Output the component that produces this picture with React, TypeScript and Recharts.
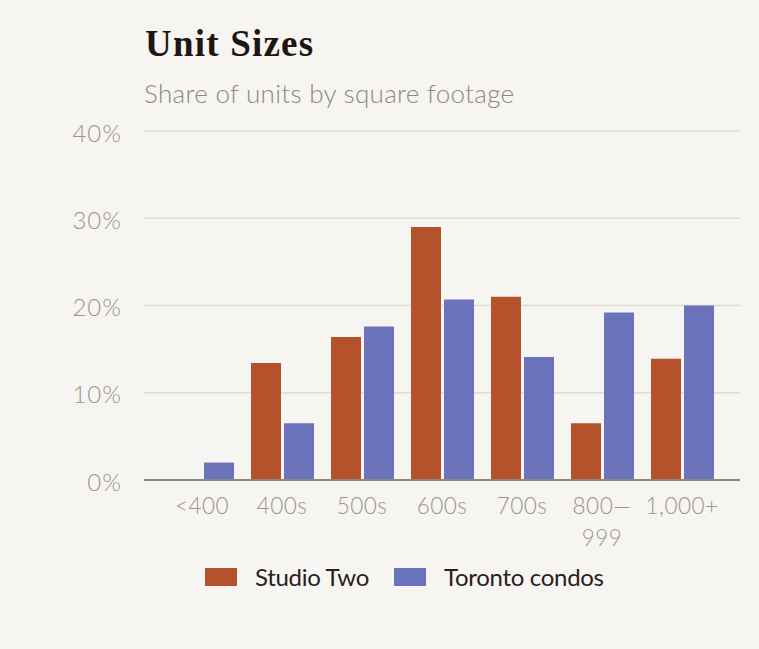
import React from "react";
import { BarChart, Bar, XAxis, YAxis, CartesianGrid } from "recharts";

// Share of units (%) by square footage band
const sizeBands = ["<400", "400s", "500s", "600s", "700s", "800—999", "1,000+"];
const studioTwo = [0, 13.4, 16.4, 29.0, 21.0, 6.5, 13.9];
const torontoCondos = [2.0, 6.5, 17.6, 20.7, 14.1, 19.2, 20.0];
const percentTicks = [0, 10, 20, 30, 40];

const seriesNames = ["Studio Two", "Toronto condos"];
const seriesColors = ["#b4522c", "#6b73bd"];

const SANS = "Lato, 'Open Sans', sans-serif";
const TICK_GREY = "#9b938e";

const data = sizeBands.map((band, i) => ({
  band,
  studio: studioTwo[i],
  toronto: torontoCondos[i],
}));

// x tick that breaks "800—999" after the dash
const BandTick = ({ x, y, payload }: any) => {
  const label: string = payload.value;
  const idx = label.indexOf("—");
  const lines = idx >= 0 ? [label.slice(0, idx + 1), label.slice(idx + 1)] : [label];
  return (
    <text
      x={x}
      y={y + 34}
      textAnchor="middle"
      fill={TICK_GREY}
      fontSize={22.5}
      letterSpacing={0.5}
      fontFamily={SANS}
      fontWeight={300}
    >
      {lines.map((line, i) => (
        <tspan key={i} x={x} dy={i === 0 ? 0 : 32}>
          {line}
        </tspan>
      ))}
    </text>
  );
};

export default function App() {
  return (
    <div
      style={{
        position: "absolute",
        left: 0,
        top: 0,
        width: 759,
        height: 649,
        background: "#f7f5f1",
        overflow: "hidden",
      }}
    >
      <svg
        width={759}
        height={649}
        style={{ position: "absolute", left: 0, top: 0, pointerEvents: "none" }}
      >
        <text
          x={145}
          y={56}
          fontFamily="'Liberation Serif', 'DejaVu Serif', serif"
          fontWeight={700}
          fontSize={37}
          letterSpacing={1.2}
          fill="#1f1513"
        >
          Unit Sizes
        </text>
        <text
          x={144}
          y={103}
          fontFamily={SANS}
          fontWeight={300}
          fontSize={26}
          letterSpacing={0.3}
          fill="#8e8681"
        >
          Share of units by square footage
        </text>
        {seriesNames.map((name, i) => {
          const left = i === 0 ? 205 : 394;
          return (
            <g key={name}>
              <rect x={left} y={568} width={32} height={18} fill={seriesColors[i]} />
              <text
                x={left + 50}
                y={586}
                fontFamily={SANS}
                fontSize={24}
                letterSpacing={-0.3}
                fill="#2a201d"
              >
                {name}
              </text>
            </g>
          );
        })}
      </svg>

      <div style={{ position: "absolute", left: 0, top: 0 }}>
        <BarChart
          width={759}
          height={560}
          data={data}
          margin={{ top: 131, right: 19, left: 0, bottom: 10 }}
          barSize={30}
          barGap={3}
        >
          <CartesianGrid vertical={false} stroke="#dedad5" strokeWidth={1.5} />
          <XAxis
            dataKey="band"
            height={70}
            padding={{ left: 18, right: 18 }}
            axisLine={{ stroke: "#8f8782", strokeWidth: 2 }}
            tickLine={false}
            tickSize={0}
            tickMargin={0}
            interval={0}
            tick={<BandTick />}
          />
          <YAxis
            width={144}
            domain={[0, 40]}
            ticks={percentTicks}
            tickFormatter={(v) => `${v}%`}
            axisLine={false}
            tickLine={false}
            tickSize={0}
            tickMargin={22}
            tick={{
              fill: TICK_GREY,
              fontSize: 24,
              letterSpacing: 1,
              fontFamily: SANS,
              fontWeight: 300,
              dy: 2,
            }}
          />
          <Bar dataKey="studio" name={seriesNames[0]} fill={seriesColors[0]} isAnimationActive={false} />
          <Bar dataKey="toronto" name={seriesNames[1]} fill={seriesColors[1]} isAnimationActive={false} />
        </BarChart>
      </div>
    </div>
  );
}
